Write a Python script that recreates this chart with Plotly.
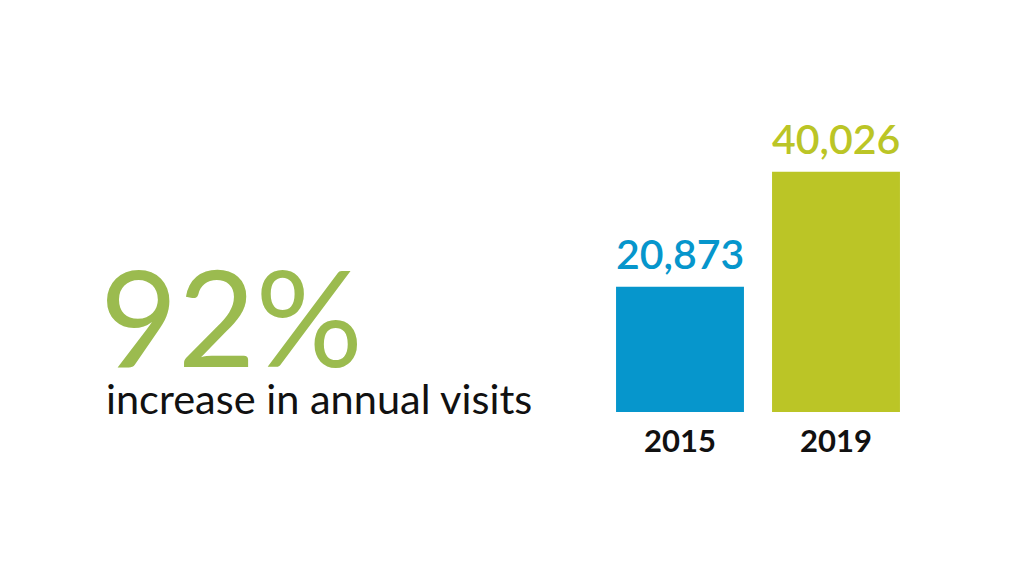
import plotly.graph_objects as go

years = ["2015", "2019"]
visits = [20873, 40026]
bar_colors = ["#0696CC", "#BBC526"]
headline = "92%"
subline = "increase in annual visits"

W, H = 1024, 576

fig = go.Figure()
fig.add_trace(go.Bar(
    x=years, y=visits, marker=dict(color=bar_colors, line=dict(width=0)),
    width=0.82, hoverinfo="skip", showlegend=False,
))

annotations = []
for i, (v, c) in enumerate(zip(visits, bar_colors)):
    annotations.append(dict(
        x=i, y=v, xref="x", yref="y", text=f"{v:,}", showarrow=False,
        yanchor="bottom", yshift=7,
        font=dict(family="Lato", size=41, color=c, weight=600),
    ))

annotations.append(dict(
    x=90 / W, y=1 - 390 / H, xref="paper", yref="paper", text=headline,
    showarrow=False, xanchor="left", yanchor="bottom",
    font=dict(family="Lato", size=134, color="#9BBB4F", weight=400),
))
annotations.append(dict(
    x=96 / W, y=1 - 417 / H, xref="paper", yref="paper", text=subline,
    showarrow=False, xanchor="left", yanchor="bottom",
    font=dict(family="Lato", size=41.5, color="#111111", weight=400),
))

fig.update_layout(
    width=W, height=H, margin=dict(l=0, r=0, t=0, b=0),
    paper_bgcolor="white", plot_bgcolor="white",
    annotations=annotations,
    xaxis=dict(type="category", domain=[594 / W, 906 / W], range=[-0.5, 1.5],
               showgrid=False, zeroline=False, showline=False,
               ticks="outside", ticklen=2, tickcolor="rgba(0,0,0,0)",
               tickfont=dict(family="Lato", size=31, color="#111111", weight=700)),
    yaxis=dict(domain=[(H - 404) / H, (H - 104) / H], range=[0, 50000],
               visible=False, showgrid=False, zeroline=False),
)

fig.write_html("out.html")
